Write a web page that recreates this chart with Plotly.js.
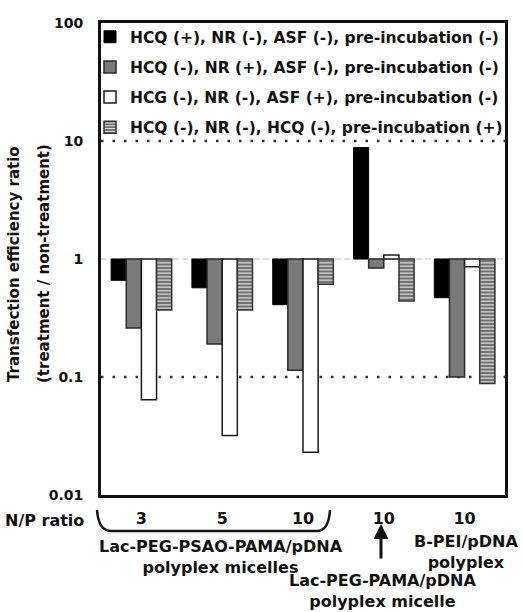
<!DOCTYPE html>
<html>
<head>
<meta charset="utf-8">
<script src="https://cdn.plot.ly/plotly-3.0.1.min.js"></script>
<style>html,body{margin:0;padding:0;background:#fff;}#chart{width:523px;height:612px;}</style>
</head>
<body>
<div id="chart"></div>
<script>
// ---- data ----
var groupPos = [0, 1, 2, 3, 4];
var npLabels = ["3", "5", "10", "10", "10"];
var seriesNames = [
  "HCQ (+), NR (-), ASF (-), pre-incubation (-)",
  "HCQ (-), NR (+), ASF (-), pre-incubation (-)",
  "HCG (-), NR (-), ASF (+), pre-incubation (-)",
  "HCQ (-), NR (-), HCQ (-), pre-incubation (+)"
];
var hcqPlus   = [0.66, 0.57, 0.41, 8.8, 0.47];
var nrPlus    = [0.26, 0.19, 0.114, 0.84, 0.10];
var asfPlus   = [0.064, 0.032, 0.023, 1.08, 0.86];
var preIncPlus= [0.37, 0.37, 0.61, 0.44, 0.088];
var yTickVals = [0.01, 0.1, 1, 10, 100];
var yTickText = ["0.01", "0.1", "1", "10", "100"];
var yTitleLines = ["Transfection efficiency ratio", "(treatment / non-treatment)"];
var dottedLevels = [10, 0.1];
var baseLevel = 1;

var F = "DejaVu Sans, Verdana, sans-serif";

function rel(arr){ return arr.map(function(v){ return v - baseLevel; }); }
function baseArr(arr){ return arr.map(function(){ return baseLevel; }); }

var traces = [
  {type:'bar', x:groupPos, y:rel(hcqPlus), base:baseArr(hcqPlus), name:seriesNames[0], legendgroup:'a',
   marker:{color:'#000000', line:{color:'#000000', width:1}}},
  {type:'bar', x:groupPos, y:rel(nrPlus), base:baseArr(nrPlus), name:seriesNames[1], legendgroup:'b',
   marker:{color:'#7a7a7a', line:{color:'#2a2a2a', width:1.5}}},
  {type:'bar', x:groupPos, y:rel(asfPlus), base:baseArr(asfPlus), name:seriesNames[2], legendgroup:'c',
   marker:{color:'#ffffff', line:{color:'#1a1a1a', width:1.5}}},
  {type:'bar', x:groupPos, y:rel(preIncPlus), base:baseArr(preIncPlus), name:seriesNames[3], legendgroup:'d',
   marker:{color:'#6e6e6e', line:{color:'#333333', width:1.5},
     pattern:{shape:'-', fgcolor:'#e4e4e4', bgcolor:'#6e6e6e', size:3.5, solidity:0.35}}}
];

var shapes = dottedLevels.map(function(v){
  return {type:'line', xref:'paper', yref:'y', x0:0, x1:1, y0:v, y1:v, layer:'below',
          line:{color:'#333', width:2.5, dash:'2.5px,9px'}};
});
shapes.push({type:'line', xref:'paper', yref:'y', x0:0, x1:1, y0:baseLevel, y1:baseLevel, layer:'below',
          line:{color:'#bbbbbb', width:1, dash:'6px,3px'}});
// brace under first three groups
shapes.push({type:'path', xref:'paper', yref:'paper',
  path:'M -0.0099,-0.0318 Q -0.006,-0.0763 0.025,-0.0763 L 0.535,-0.0763 Q 0.563,-0.0763 0.567,-0.0318',
  line:{color:'#111', width:2.5}});

var annFont = {family:F, size:16, color:'#111', weight:'bold'};
var titleFont = {family:F, size:15, color:'#111', weight:'bold'};
function px(x){ return (x-101)/404; }
function py(y){ return (495-y)/472; }
var annotations = [
  {xref:'paper', yref:'paper', x:px(14), y:py(264), text:yTitleLines[0], textangle:-90, showarrow:false, xanchor:'center', yanchor:'middle', font:titleFont},
  {xref:'paper', yref:'paper', x:px(44), y:py(264), text:yTitleLines[1], textangle:-90, showarrow:false, xanchor:'center', yanchor:'middle', font:titleFont},
  {xref:'paper', yref:'paper', x:px(86), y:py(520), text:'N/P ratio', showarrow:false, xanchor:'right', yanchor:'middle', font:annFont},
  {xref:'paper', yref:'paper', x:px(221), y:py(557), text:'Lac-PEG-PSAO-PAMA/pDNA<br>polyplex micelles', showarrow:false, xanchor:'center', yanchor:'middle', font:annFont},
  {xref:'paper', yref:'paper', x:px(466), y:py(552), text:'B-PEI/pDNA<br>polyplex', showarrow:false, xanchor:'center', yanchor:'middle', font:annFont},
  {xref:'paper', yref:'paper', x:px(382), y:py(612), text:'Lac-PEG-PAMA/pDNA<br>polyplex micelle', showarrow:false, xanchor:'center', yanchor:'bottom', font:annFont, borderpad:0},
  {xref:'paper', yref:'paper', x:px(381), y:py(524), ax:0, ay:36, text:'', showarrow:true, arrowhead:2, arrowsize:1, arrowwidth:3, arrowcolor:'#111', standoff:0, startstandoff:0}
];

var layout = {
  width:523, height:612,
  margin:{l:101, r:18, t:23, b:117},
  paper_bgcolor:'#ffffff', plot_bgcolor:'#ffffff',
  font:{family:F, size:14, color:'#111', weight:'bold'},
  barmode:'group', bargap:0.25, bargroupgap:0,
  showlegend:true,
  legend:{x:-0.0272, y:1.006, xanchor:'left', yanchor:'top', bgcolor:'rgba(0,0,0,0)', borderwidth:0,
          font:{family:F, size:15.5, color:'#111', weight:'bold'}, tracegroupgap:7, itemwidth:30, traceorder:'grouped'},
  xaxis:{range:[-0.5, 4.5], tickvals:groupPos, ticktext:npLabels, ticks:'', showgrid:false, zeroline:false,
         showline:true, mirror:true, linecolor:'#111', linewidth:3, ticklabelstandoff:7,
         tickfont:{family:F, size:16, color:'#111', weight:'bold'}, fixedrange:true},
  yaxis:{type:'log', range:[-2, 2], tickvals:yTickVals, ticktext:yTickText, ticks:'', showgrid:false, zeroline:false,
         showline:true, mirror:true, linecolor:'#111', linewidth:3, ticklabelstandoff:12,
         tickfont:{family:F, size:14, color:'#111', weight:'bold'}},
  shapes:shapes,
  annotations:annotations
};

Plotly.newPlot('chart', traces, layout, {displayModeBar:false, staticPlot:true});
</script>
</body>
</html>
